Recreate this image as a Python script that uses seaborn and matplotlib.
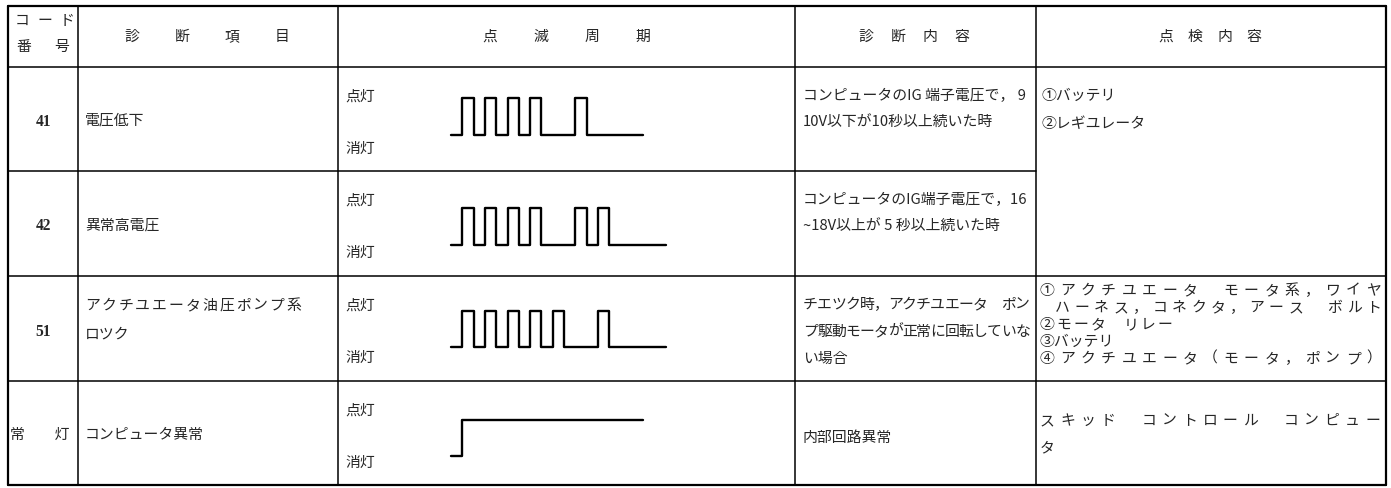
"""
ABS diagnosis code table - warning lamp blink patterns
"""
import matplotlib
matplotlib.use('Agg')
import matplotlib.pyplot as plt
import seaborn as sns
import numpy as np

sns.set_style('white')
plt.rcParams['font.family'] = ['Noto Sans CJK JP', 'DejaVu Sans']

W, H = 1391, 489

# ---------------------------------------------------------------- data
codes = ['41', '42', '51', '常\u3000\u3000灯']
items = [['電圧低下'],
         ['異常高電圧'],
         ['アクチユエータ油圧ポンプ系', 'ロツク'],
         ['コンピュータ異常']]
details = [['コンピュータのIG 端子電圧で， 9', '10V以下が10秒以上続いた時'],
           ['コンピュータのIG端子電圧で，16', '~18V以上が 5 秒以上続いた時'],
           ['チエツク時，アクチユエータ\u3000ポン', 'プ駆動モータが正常に回転していな', 'い場合'],
           ['内部回路異常']]
checks_12 = ['①バッテリ', '②レギユレータ']
checks_3 = ['①アクチユエータ\u3000モータ系，ワイヤ', 'ハーネス，コネクタ，アース\u3000ボルト',
            '②モータ\u3000リレー', '③バッテリ', '④アクチユエータ（モータ，ポンプ）']
checks_4 = ['スキッド\u3000コントロール\u3000コンピュー', 'タ']
headers = ['コード', '診断項目', '点滅周期', '診断内容', '点検内容']

# lamp state per time unit (1 = 点灯, 0 = 消灯)
wave_41 = [0, 1, 0, 1, 0, 1, 0, 1, 0, 0, 0, 1, 0, 0, 0, 0, 0]
wave_42 = [0, 1, 0, 1, 0, 1, 0, 1, 0, 0, 0, 1, 0, 1, 0, 0, 0, 0, 0]
wave_51 = [0, 1, 0, 1, 0, 1, 0, 1, 0, 1, 0, 0, 0, 1, 0, 0, 0, 0, 0]
wave_on = [0] + [1] * 16
waves = [wave_41, wave_42, wave_51, wave_on]

# ---------------------------------------------------------------- layout
col_x = [8, 78, 338, 795, 1036, 1386]
row_y = [7, 68, 172, 277, 382, 486]
fs = 10.7
cw = fs * 100 / 72   # full-width glyph size in px

fig = plt.figure(figsize=(W / 100, H / 100), dpi=100)
ax = fig.add_axes([0, 0, 1, 1])
ax.set_xlim(0, W)
ax.set_ylim(H, 0)
ax.axis('off')

# grid lines
for i, x in enumerate(col_x):
    lw = 1.6 if i in (0, len(col_x) - 1) else 1.1
    ax.plot([x, x], [row_y[0], row_y[-1]], color='black', lw=lw)
for i, y in enumerate(row_y):
    lw = 1.6 if i in (0, len(row_y) - 1) else 1.1
    x_end = col_x[4] if i == 2 else col_x[-1]   # 点検内容 merged for rows 41/42
    ax.plot([col_x[0], x_end], [y, y], color='black', lw=lw)


def spread(text, x0, x1, y):
    # characters centred evenly between x0 and x1 (spaced header style)
    xs = np.linspace(x0, x1, len(text))
    for ch, xx in zip(text, xs):
        ax.text(xx, y, ch, ha='center', va='center', fontsize=fs)


def justify(text, x0, x1, y):
    # full-width line stretched so it fills x0..x1
    spread(text, x0 + cw / 2, x1 - cw / 2, y)


# header
spread('コード', 22, 67, 21)
spread('番号', 24, 62, 47)
spread(headers[1], 132, 282, 37)
spread(headers[2], 490, 643, 37)
spread(headers[3], 866, 962, 37)
spread(headers[4], 1166, 1254, 37)

# body
for r in range(4):
    top, bot = row_y[r + 1], row_y[r + 2]
    mid = (top + bot) / 2
    if r < 3:
        ax.text(43, mid + 2, codes[r], ha='center', va='center', fontsize=fs + 0.5,
                family=['Liberation Serif', 'DejaVu Serif'], fontweight='bold')
    else:
        ax.text(40, mid + 1, codes[r], ha='center', va='center', fontsize=fs)

    lines = items[r]
    if len(lines) == 1:
        ax.text(85, mid + 1, lines[0], ha='left', va='center', fontsize=fs)
    else:
        justify(lines[0], 85, 301, top + 29)
        ax.text(85, top + 58, lines[1], ha='left', va='center', fontsize=fs)

    ax.text(345, top + 29, '点灯', ha='left', va='center', fontsize=fs)
    ax.text(345, top + 81, '消灯', ha='left', va='center', fontsize=fs)

    lines = details[r]
    if len(lines) == 1:
        ax.text(803, mid + 4, lines[0], ha='left', va='center', fontsize=fs)
    elif r == 2:
        justify(lines[0], 803, 1030, top + 28)
        justify(lines[1], 803, 1030, top + 55)
        ax.text(803, top + 82, lines[2], ha='left', va='center', fontsize=fs)
    else:
        for k, s in enumerate(lines):
            ax.text(803, top + 28 + 27 * k, s, ha='left', va='center', fontsize=fs)

for k, s in enumerate(checks_12):
    ax.text(1041, 96 + 28 * k, s, ha='left', va='center', fontsize=fs)

c3_y = [291, 308, 325, 342, 359]
justify(checks_3[0], 1040, 1381, c3_y[0])
justify(checks_3[1], 1055, 1381, c3_y[1])
justify(checks_3[2], 1040, 1172, c3_y[2])
ax.text(1040, c3_y[3], checks_3[3], ha='left', va='center', fontsize=fs)
justify(checks_3[4], 1040, 1381, c3_y[4])

justify(checks_4[0], 1040, 1380, 421)
ax.text(1040, 448, checks_4[1], ha='left', va='center', fontsize=fs)

# blink waveforms, one small axes per row (time units on x)
unit_px = 11.3
wave_hi_lo = [(99, 136), (209, 246), (312, 348), (421, 457)]
for wave, (y_hi, y_lo) in zip(waves, wave_hi_lo):
    n = 20
    wax = fig.add_axes([451 / W, 1 - y_lo / H, n * unit_px / W, (y_lo - y_hi) / H])
    t = np.arange(len(wave) + 1)
    s = wave + [wave[-1]]
    sns.lineplot(x=t, y=s, drawstyle='steps-post', color='black', lw=1.7, ax=wax)
    for ln in wax.lines:
        ln.set_clip_on(False)
    wax.set_xlim(0, n)
    wax.set_ylim(0, 1)
    wax.axis('off')

fig.savefig('out.png', dpi=100, facecolor='white')
